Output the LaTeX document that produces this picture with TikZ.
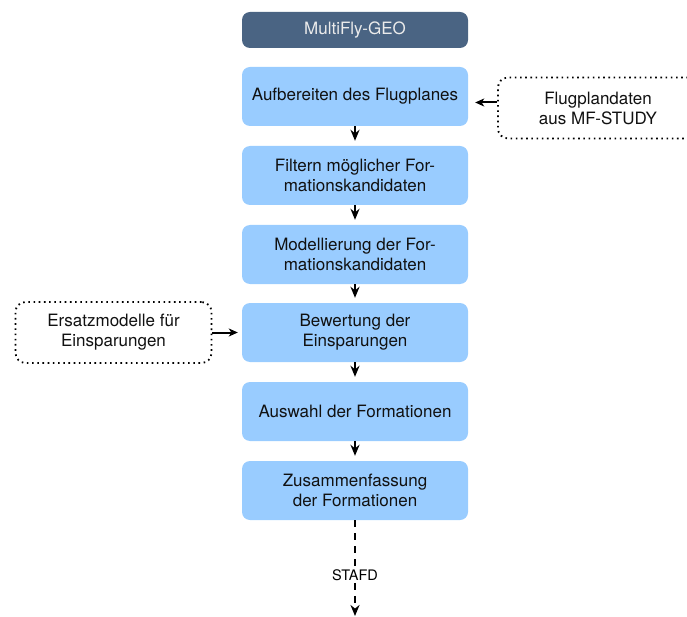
\documentclass[tikz,border=0pt]{standalone}
\usepackage{fontspec}
\setmainfont{TeX Gyre Heros}
\usetikzlibrary{arrows.meta}
\definecolor{headblue}{HTML}{4A6483}
\definecolor{stepblue}{HTML}{99CCFF}
\definecolor{inktext}{HTML}{111111}
\begin{document}
\begin{tikzpicture}[x=1pt,y=-1pt,
  every node/.style={font=\fontsize{17}{20}\selectfont, align=center},
  headbox/.style={fill=headblue, text=white!92!black, rounded corners=8pt,
    minimum width=226pt, minimum height=36pt, inner sep=0pt},
  stepbox/.style={fill=stepblue, text=inktext, rounded corners=8pt,
    minimum width=226pt, minimum height=59pt, inner sep=0pt},
  sidebox/.style={draw=black, line width=1.8pt, dash pattern=on 1.6pt off 3.6pt,
    rounded corners=10pt, text=inktext, minimum height=61pt, inner sep=0pt},
  flow/.style={line width=2pt, -{Stealth[length=11pt,width=9pt,inset=3.5pt]}},
  feed/.style={line width=2pt, -{Stealth[length=9pt,width=8pt,inset=2.5pt]}},
  outlink/.style={line width=2pt, dash pattern=on 7pt off 6pt}
]
\useasboundingbox (0,0) rectangle (687,617);

% main chain of processing steps
\node[headbox] (head) at (355,30) {MultiFly-GEO};
\node[stepbox] (s1) at (355,96.5) {Aufbereiten des Flugplanes};
\node[stepbox] (s2) at (355,175.5) {Filtern möglicher For-\\mationskandidaten};
\node[stepbox] (s3) at (355,254.5) {Modellierung der For-\\mationskandidaten};
\node[stepbox] (s4) at (355,332.5) {Bewertung der\\Einsparungen};
\node[stepbox] (s5) at (355,411.5) {Auswahl der Formationen};
\node[stepbox] (s6) at (355,490.5) {Zusammenfassung\\der Formationen};

% external inputs
\node[sidebox, minimum width=200pt] (plan) at (598,108) {Flugplandaten\\aus MF-STUDY};
\node[sidebox, minimum width=196pt] (surr) at (113.5,332.5) {Ersatzmodelle für\\Einsparungen};

% hand-over to the next tool
\node[font=\fontsize{14.5}{16}\selectfont, inner sep=2pt] (stafd) at (355,575) {STAFD};
\coordinate (outend) at (355,616);

% step-to-step arrows
\foreach \a/\b in {s1/s2,s2/s3,s3/s4,s4/s5,s5/s6}
  \draw[flow, shorten >=5pt] (\a.south) -- (\b.north);

% input arrows
\draw[feed, shorten >=7pt] ([yshift=5.5pt]plan.west) -- ([yshift=5.5pt]plan.west -| s1.east);
\draw[feed, shorten >=4pt] (surr.east) -- (s4.west);

% output link
\draw[outlink] (s6.south) -- (stafd.north);
\draw[outlink, -{Stealth[length=11pt,width=9pt,inset=3.5pt]}] (stafd.south) -- (outend);
\end{tikzpicture}
\end{document}
